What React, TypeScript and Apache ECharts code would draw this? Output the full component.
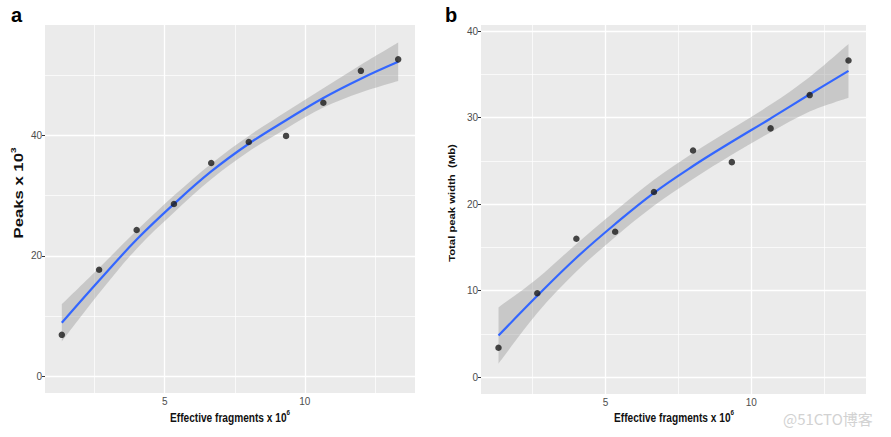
import React, { useEffect, useRef } from "react";
import * as echarts from "echarts";

// Effective fragments (x 10^6) – shared x values of both panels
const fragments = [1.33, 2.66, 4.0, 5.33, 6.66, 8.0, 9.33, 10.66, 12.0, 13.33];

// Panel a: peaks x 10^3
const peaks = [6.9, 17.7, 24.3, 28.6, 35.4, 38.9, 39.9, 45.4, 50.7, 52.6];
const peakFit = [8.9, 15.9, 22.7, 28.6, 34.0, 38.6, 42.5, 46.2, 49.4, 52.2];
const peakLow = [5.8, 13.8, 21.2, 27.2, 32.7, 37.3, 41.1, 44.6, 47.1, 49.0];
const peakHigh = [12.0, 18.0, 24.2, 30.0, 35.3, 39.9, 43.9, 47.8, 51.7, 55.4];

// Panel b: total peak width (Mb)
const widths = [3.4, 9.7, 16.0, 16.8, 21.4, 26.2, 24.85, 28.75, 32.6, 36.6];
const widthFit = [4.8, 9.4, 13.8, 17.7, 21.3, 24.4, 27.2, 29.9, 32.7, 35.4];
const widthLow = [1.55, 7.4, 12.2, 16.2, 19.8, 22.9, 25.7, 28.3, 30.7, 32.3];
const widthHigh = [8.05, 11.4, 15.4, 19.2, 22.8, 25.9, 28.7, 31.5, 34.7, 38.5];

// Ticks and grid lines
const xTicks = [5, 10];
const xMinor = [2.5, 7.5, 12.5];
const peakTicks = [0, 20, 40];
const peakMinor = [10, 30, 50];
const widthTicks = [0, 10, 20, 30, 40];
const widthMinor = [5, 15, 25, 35];

const FONT = '"Liberation Sans", Arial, sans-serif';

function zip(xs: number[], ys: number[]) {
  return xs.map((x, i) => [x, ys[i]]);
}

function gridLines(xMaj: number[], xMin: number[], yMaj: number[], yMin: number[]) {
  const major = { color: "#ffffff", width: 1.3, type: "solid" };
  const minor = { color: "#ffffff", width: 0.7, type: "solid" };
  return [
    ...xMin.map((v) => ({ xAxis: v, lineStyle: minor })),
    ...yMin.map((v) => ({ yAxis: v, lineStyle: minor })),
    ...xMaj.map((v) => ({ xAxis: v, lineStyle: major })),
    ...yMaj.map((v) => ({ yAxis: v, lineStyle: major })),
  ];
}

// Catmull-Rom spline through pixel points, as SVG path commands (without the initial M)
function splineSegs(pts: number[][]) {
  let d = "";
  for (let i = 0; i < pts.length - 1; i++) {
    const p0 = pts[Math.max(0, i - 1)];
    const p1 = pts[i];
    const p2 = pts[i + 1];
    const p3 = pts[Math.min(pts.length - 1, i + 2)];
    const c1x = p1[0] + (p2[0] - p0[0]) / 6;
    const c1y = p1[1] + (p2[1] - p0[1]) / 6;
    const c2x = p2[0] - (p3[0] - p1[0]) / 6;
    const c2y = p2[1] - (p3[1] - p1[1]) / 6;
    d += ` C${c1x},${c1y} ${c2x},${c2y} ${p2[0]},${p2[1]}`;
  }
  return d;
}

function xAxisDef(gridIndex: number) {
  return {
    type: "value",
    gridIndex,
    min: 0.73,
    max: 13.93,
    splitLine: { show: false },
    axisLine: { show: false },
    axisTick: { show: true, customValues: xTicks, length: 3, lineStyle: { color: "#333", width: 1 } },
    axisLabel: { customValues: xTicks, fontSize: 10, color: "#4D4D4D", margin: 3, fontFamily: FONT },
  };
}

function yAxisDef(gridIndex: number, min: number, max: number, ticks: number[]) {
  return {
    type: "value",
    gridIndex,
    min,
    max,
    splitLine: { show: false },
    axisLine: { show: false },
    axisTick: { show: true, customValues: ticks, length: 3, lineStyle: { color: "#333", width: 1 } },
    axisLabel: { customValues: ticks, fontSize: 10, color: "#4D4D4D", margin: 3, fontFamily: FONT },
  };
}

function panelSeries(
  idx: number,
  ys: number[],
  fit: number[],
  low: number[],
  high: number[],
  yMaj: number[],
  yMin: number[]
) {
  return [
    {
      type: "custom",
      xAxisIndex: idx,
      yAxisIndex: idx,
      silent: true,
      z: 2,
      data: [[fragments[0], low[0]]],
      renderItem: (_params: any, api: any) => {
        const up = fragments.map((x, i) => api.coord([x, high[i]]));
        const dn = fragments.map((x, i) => api.coord([x, low[i]])).reverse();
        const d =
          `M${up[0][0]},${up[0][1]}` +
          splineSegs(up) +
          ` L${dn[0][0]},${dn[0][1]}` +
          splineSegs(dn) +
          " Z";
        return {
          type: "path",
          shape: { pathData: d },
          style: { fill: "rgba(153,153,153,0.42)", stroke: "none" },
        };
      },
    },
    {
      type: "line",
      xAxisIndex: idx,
      yAxisIndex: idx,
      data: zip(fragments, fit),
      smooth: 0.4,
      symbol: "none",
      lineStyle: { color: "#3366FF", width: 2.2 },
      z: 3,
    },
    {
      type: "scatter",
      xAxisIndex: idx,
      yAxisIndex: idx,
      data: zip(fragments, ys),
      symbolSize: 6.5,
      itemStyle: { color: "#1a1a1a" },
      z: 4,
      markLine: {
        silent: true,
        z: 1,
        symbol: ["none", "none"],
        label: { show: false },
        animation: false,
        data: gridLines(xTicks, xMinor, yMaj, yMin),
      },
    },
  ];
}

function titleText(
  text: string,
  x: number,
  y: number,
  size: number,
  opts: { rotate?: boolean; squeeze?: number } = {}
) {
  const sq = opts.squeeze ?? 0.78;
  return {
    type: "text",
    x,
    y,
    rotation: opts.rotate ? Math.PI / 2 : 0,
    // squeeze the glyphs horizontally on screen (local y once rotated)
    scaleX: opts.rotate ? 1 : sq,
    scaleY: opts.rotate ? sq : 1,
    style: {
      text,
      fill: "#111",
      fontSize: size,
      fontWeight: "bold",
      fontFamily: FONT,
      align: "center",
      verticalAlign: "middle",
      lineHeight: size + 4,
      rich: {
        sup: {
          fontSize: Math.round(size * 0.6),
          fontWeight: "bold",
          fontFamily: FONT,
          fill: "#111",
          verticalAlign: "top",
          lineHeight: size + 4,
        },
      },
    },
  };
}

export default function App() {
  const ref = useRef<HTMLDivElement>(null);

  useEffect(() => {
    if (!ref.current) return;
    const chart = echarts.init(ref.current, undefined, { renderer: "svg" });
    const option = {
      animation: false,
      backgroundColor: "#ffffff",
      grid: [
        { left: 45, top: 25, width: 370, height: 368, show: true, backgroundColor: "#EBEBEB", borderWidth: 0 },
        { left: 481, top: 25, width: 385, height: 369, show: true, backgroundColor: "#EBEBEB", borderWidth: 0 },
      ],
      xAxis: [xAxisDef(0), xAxisDef(1)],
      yAxis: [yAxisDef(0, -2.75, 58.3, peakTicks), yAxisDef(1, -1.95, 40.7, widthTicks)],
      series: [
        ...panelSeries(0, peaks, peakFit, peakLow, peakHigh, peakTicks, peakMinor),
        ...panelSeries(1, widths, widthFit, widthLow, widthHigh, widthTicks, widthMinor),
      ],
      graphic: [
        {
          type: "text",
          left: 11,
          top: 5,
          style: { text: "a", fontSize: 20, fontWeight: "bold", fontFamily: FONT, fill: "#000" },
        },
        {
          type: "text",
          left: 445,
          top: 5,
          style: { text: "b", fontSize: 20, fontWeight: "bold", fontFamily: FONT, fill: "#000" },
        },
        titleText("Effective fragments x 10{sup|6}", 230, 417, 13),
        titleText("Effective fragments x 10{sup|6}", 674, 417, 13),
        titleText("Peaks x 10{sup|3}", 18, 193, 16.7, { rotate: true }),
        titleText("Total peak width  (Mb)", 452, 203, 11.3, { rotate: true }),
        {
          type: "text",
          x: 783,
          y: 418,
          style: {
            text: "@51CTO博客",
            fontSize: 15,
            fontFamily: '"Noto Sans CJK SC", sans-serif',
            fill: "#d2d2d2",
            align: "left",
            verticalAlign: "middle",
          },
        },
      ],
    };
    chart.setOption(option as any);
    return () => chart.dispose();
  }, []);

  return (
    <div
      ref={ref}
      style={{ position: "absolute", left: 0, top: 0, width: 891, height: 437 }}
    />
  );
}
